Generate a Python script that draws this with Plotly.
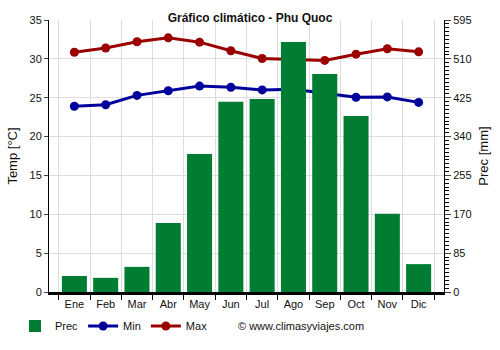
import plotly.graph_objects as go

months = ["Ene", "Feb", "Mar", "Abr", "May", "Jun", "Jul", "Ago", "Sep", "Oct", "Nov", "Dic"]
prec = [35, 31, 55, 151, 302, 416, 422, 547, 477, 385, 171, 61]
tmin = [23.9, 24.1, 25.3, 25.9, 26.5, 26.35, 26.0, 26.1, 25.6, 25.05, 25.1, 24.4]
tmax = [30.85, 31.4, 32.2, 32.7, 32.15, 31.05, 30.05, 29.95, 29.8, 30.6, 31.3, 30.9]

fig = go.Figure()
fig.add_trace(go.Bar(x=months, y=prec, name="Prec", marker_color="#007d32",
                     marker_line_width=0, yaxis="y2", width=0.8))
fig.add_trace(go.Scatter(x=months, y=tmin, name="Min", mode="lines+markers",
                         line=dict(color="#00009b", width=3), marker=dict(size=9)))
fig.add_trace(go.Scatter(x=months, y=tmax, name="Max", mode="lines+markers",
                         line=dict(color="#9b0000", width=3), marker=dict(size=9)))

fig.update_layout(
    width=500, height=350,
    margin=dict(l=49, r=56, t=20, b=58, autoexpand=False),
    plot_bgcolor="white", paper_bgcolor="white",
    font=dict(family="Liberation Sans, Arial", size=11, color="#111"),
    title=dict(text="<b>Gráfico climático - Phu Quoc</b>", x=0.5, xanchor="center",
               xref="container", yref="container",
               y=1 - 18 / 350, yanchor="middle", font=dict(size=12)),
    xaxis=dict(tickson="boundaries", showgrid=True, gridcolor="#dddddd",
               ticks="outside", ticklen=5, tickcolor="black",
               showline=True, linecolor="black", linewidth=3),
    yaxis=dict(title=dict(text="Temp [°C]", standoff=8), range=[0, 35], dtick=5,
               showgrid=True, gridcolor="#dddddd", showline=True, linecolor="black",
               linewidth=1, ticks="outside", ticklen=4, zeroline=False),
    yaxis2=dict(title=dict(text="Prec [mm]", standoff=8), range=[0, 595], dtick=85,
                overlaying="y", side="right", showgrid=False, showline=True,
                linecolor="black", linewidth=1, ticks="outside", ticklen=6,
                minor=dict(dtick=8.5, ticks="outside", ticklen=4, tickcolor="black"),
                zeroline=False),
    legend=dict(orientation="h", xref="container", yref="container",
                x=0.03, y=1 - 326 / 350, xanchor="left", yanchor="middle",
                font=dict(size=11), traceorder="normal", itemwidth=30),
    bargap=0.2,
    showlegend=True,
)
fig.add_annotation(text="© www.climasyviajes.com", x=(236 - 49) / 395, y=(292 - 326) / 272,
                   xref="paper", yref="paper", xanchor="left", yanchor="middle",
                   showarrow=False, font=dict(size=11))
fig.write_html("out.html")
